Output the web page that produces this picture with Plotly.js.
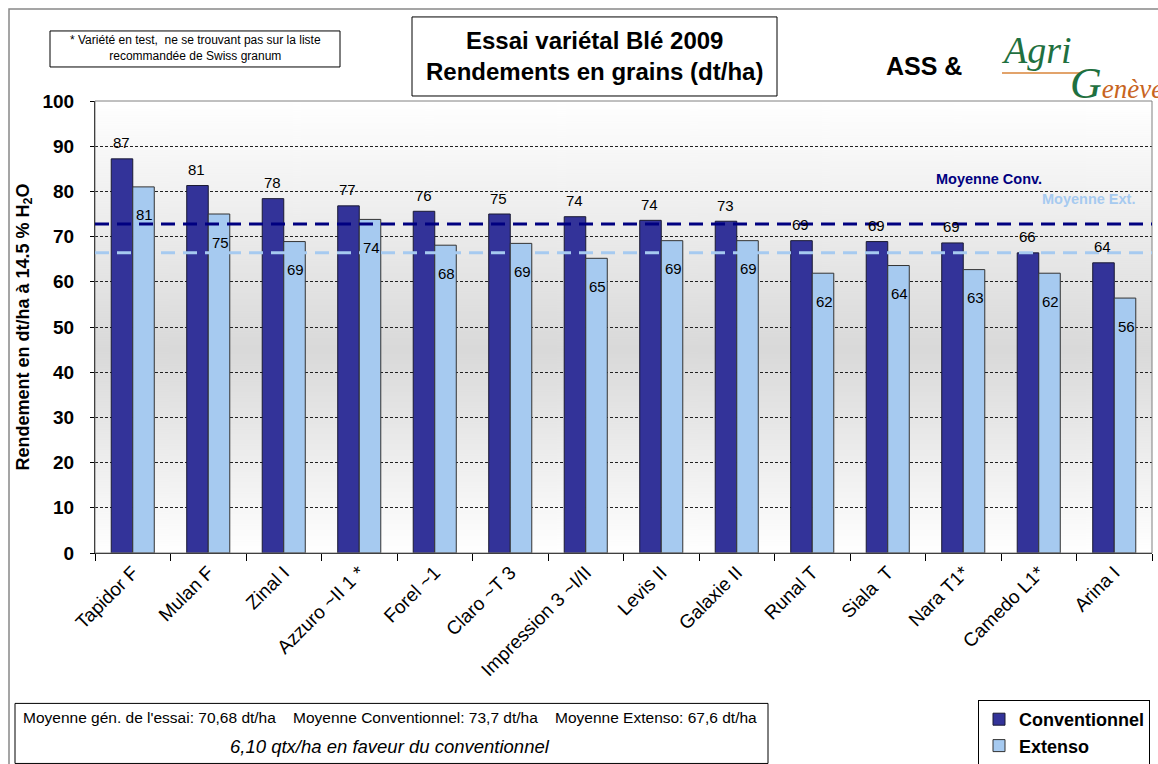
<!DOCTYPE html>
<html>
<head>
<meta charset="utf-8">
<script src="https://cdn.plot.ly/plotly-3.0.1.min.js"></script>
<style>html,body{margin:0;padding:0;background:#fff;}#chart{width:1158px;height:764px;}</style>
</head>
<body>
<div id="chart"></div>
<script>
const categories = ['Tapidor F','Mulan F','Zinal I','Azzuro ~II 1 *','Forel ~1','Claro ~T 3','Impression 3 ~I/II','Levis II','Galaxie II','Runal T','Siala  T','Nara T1*','Camedo L1*','Arina I'];
const conventionnel = [87.2, 81.3, 78.4, 76.8, 75.6, 75.0, 74.4, 73.6, 73.4, 69.1, 68.9, 68.6, 66.4, 64.2];
const extenso = [81.0, 75.0, 68.9, 73.8, 68.1, 68.5, 65.2, 69.1, 69.1, 61.9, 63.6, 62.7, 61.9, 56.4];
const moyenneConv = 72.8;
const moyenneExt = 66.4;
const yTicks = [0,10,20,30,40,50,60,70,80,90,100];

const W = 1158, H = 764;
const L = 95, R = 1152, T = 101, B = 552.7;
const px = x => (x - L) / (R - L);
const py = y => (B - y) / (B - T);

const FONT = 'Liberation Sans, Arial, sans-serif';
const SERIF = 'Liberation Serif, DejaVu Serif, serif';
const CONV_COL = '#333399';
const EXT_COL = '#a6caf0';

// gradient background of the plot area
const cv = document.createElement('canvas');
cv.width = 8; cv.height = 452;
const ctx = cv.getContext('2d');
const g = ctx.createLinearGradient(0, 0, 0, 452);
g.addColorStop(0, '#ffffff');
g.addColorStop(0.55, '#d9d9d9');
g.addColorStop(1, '#ffffff');
ctx.fillStyle = g;
ctx.fillRect(0, 0, 8, 452);
const bgURL = cv.toDataURL('image/png');

const traces = [
  {type:'bar', name:'Conventionnel', x:categories, y:conventionnel,
   marker:{color:CONV_COL, line:{color:'#1a1a33', width:1}}, hoverinfo:'x+y'},
  {type:'bar', name:'Extenso', x:categories, y:extenso,
   marker:{color:EXT_COL, line:{color:'#333333', width:1}}, hoverinfo:'x+y'}
];

const halfBar = 10.75;
const annotations = [];
categories.forEach((c, i) => {
  annotations.push({x:c, y:conventionnel[i], xref:'x', yref:'y', text:String(Math.round(conventionnel[i])),
    showarrow:false, xshift:-halfBar - 1, yshift:16, xanchor:'center', yanchor:'middle',
    font:{family:FONT, size:15, color:'#000'}});
  annotations.push({x:c, y:extenso[i], xref:'x', yref:'y', text:String(Math.round(extenso[i])),
    showarrow:false, xshift:halfBar + 1, yshift:-28, xanchor:'center', yanchor:'middle',
    font:{family:FONT, size:15, color:'#000'}});
});

function note(x, y, text, font, extra) {
  annotations.push(Object.assign({xref:'paper', yref:'paper', x:px(x), y:py(y), text:text,
    showarrow:false, xanchor:'center', yanchor:'middle', align:'center', font:font}, extra || {}));
}
note(594, 56, '<b>Essai variétal Blé 2009</b><br><b>Rendements en grains (dt/ha)</b>',
  {family:FONT, size:24, color:'#000'});
note(195, 48, '* Variété en test,  ne se trouvant pas sur la liste<br>recommandée de Swiss granum',
  {family:FONT, size:12, color:'#000'});
note(924, 66, '<b>ASS &amp;</b>', {family:FONT, size:25, color:'#000'});
note(1036, 50, '<i>Agri</i>', {family:SERIF, size:38, color:'#1f7040'});
note(1068, 84, '<i><span style="font-size:44px">G</span><span style="color:#c8641e">enève</span></i>',
  {family:SERIF, size:27, color:'#1f7040'}, {xanchor:'left'});
note(989, 179, '<b>Moyenne Conv.</b>', {family:FONT, size:14.5, color:'#000080'});
note(1088, 199, '<b>Moyenne Ext.</b>', {family:FONT, size:14.5, color:EXT_COL});
note(390, 717, 'Moyenne gén. de l\'essai: 70,68 dt/ha    Moyenne Conventionnel: 73,7 dt/ha    Moyenne Extenso: 67,6 dt/ha',
  {family:FONT, size:15.5, color:'#000'});
note(390, 746, '<i>6,10 qtx/ha en faveur du conventionnel</i>', {family:FONT, size:18.5, color:'#000'});

const shapes = [
  {type:'rect', xref:'paper', yref:'paper', x0:px(9), x1:px(1175), y0:py(9), y1:py(790),
   line:{color:'#888888', width:1.5}, fillcolor:'rgba(0,0,0,0)', layer:'below'},
  {type:'rect', xref:'paper', yref:'paper', x0:0, x1:1, y0:0, y1:1,
   line:{color:'#808080', width:1}, fillcolor:'rgba(0,0,0,0)', layer:'above'},
  {type:'rect', xref:'paper', yref:'paper', x0:px(412), x1:px(777), y0:py(17), y1:py(96),
   line:{color:'#000', width:1}, fillcolor:'rgba(0,0,0,0)'},
  {type:'rect', xref:'paper', yref:'paper', x0:px(50), x1:px(340), y0:py(31), y1:py(67),
   line:{color:'#000', width:1}, fillcolor:'rgba(0,0,0,0)'},
  {type:'rect', xref:'paper', yref:'paper', x0:px(15), x1:px(768), y0:py(703), y1:py(763),
   line:{color:'#000', width:1}, fillcolor:'rgba(0,0,0,0)'},
  {type:'line', xref:'paper', yref:'paper', x0:px(1002), x1:px(1082), y0:py(73), y1:py(73),
   line:{color:'#d9853a', width:1.5}},
  {type:'line', xref:'paper', yref:'y', x0:0, x1:1, y0:moyenneConv, y1:moyenneConv,
   line:{color:'#000080', width:3, dash:'14px,8px'}, layer:'above'},
  {type:'line', xref:'paper', yref:'y', x0:0, x1:1, y0:moyenneExt, y1:moyenneExt,
   line:{color:EXT_COL, width:3, dash:'14px,8px'}, layer:'above'}
];

const layout = {
  width:W, height:H,
  margin:{l:L, r:W - R, t:T, b:H - B, autoexpand:false},
  paper_bgcolor:'#ffffff',
  plot_bgcolor:'rgba(0,0,0,0)',
  barmode:'group', bargap:0.43, bargroupgap:0,
  font:{family:FONT, color:'#000'},
  images:[{source:bgURL, xref:'paper', yref:'paper', x:0, y:1, sizex:1, sizey:1,
    sizing:'stretch', xanchor:'left', yanchor:'top', layer:'below'}],
  xaxis:{type:'category', tickangle:-45, ticks:'outside', tickson:'boundaries', ticklen:7,
    tickcolor:'#000', showline:true, linecolor:'#000', linewidth:1, showgrid:false, automargin:false,
    tickfont:{family:FONT, size:19, color:'#000'}},
  yaxis:{range:[0,100], tickvals:yTicks, ticks:'outside', ticklen:4, tickcolor:'#000',
    showline:true, linecolor:'#000', linewidth:1, showgrid:true, gridcolor:'#222',
    griddash:'3px,2px', gridwidth:1, zeroline:false, ticklabelstandoff:12, automargin:false,
    tickfont:{family:FONT, size:19, weight:'bold', color:'#000'},
    title:{text:'<b>Rendement en dt/ha à 14.5 % H<sub>2</sub>O</b>', standoff:8,
      font:{family:FONT, size:18, color:'#000'}}},
  legend:{xref:'container', yref:'container', x:978 / W, y:1 - 700 / H, xanchor:'left', yanchor:'top',
    bgcolor:'#fff', bordercolor:'#000', borderwidth:1,
    font:{family:FONT, size:18, weight:'bold', color:'#000'}, itemwidth:30},
  showlegend:true,
  annotations:annotations,
  shapes:shapes
};

Plotly.newPlot('chart', traces, layout, {displayModeBar:false, staticPlot:true});
</script>
</body>
</html>
